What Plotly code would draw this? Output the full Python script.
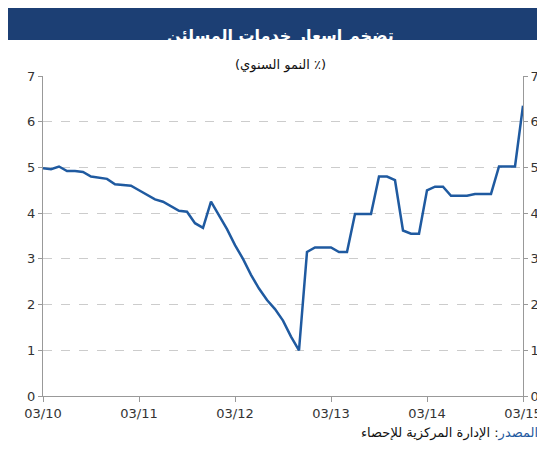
import plotly.graph_objects as go

tick_labels = ["03/10", "03/11", "03/12", "03/13", "03/14", "03/15"]
tick_pos = [0, 12, 24, 36, 48, 60]
months = list(range(61))
values = [4.98, 4.96, 5.02, 4.92, 4.92, 4.9, 4.8, 4.78, 4.75, 4.63, 4.62, 4.6,
          4.5, 4.4, 4.3, 4.25, 4.15, 4.05, 4.03, 3.78, 3.68, 4.25, 3.95, 3.65,
          3.3, 3.0, 2.65, 2.35, 2.1, 1.9, 1.65, 1.3, 1.0, 3.15, 3.25, 3.25,
          3.25, 3.15, 3.15, 3.98, 3.98, 3.98, 4.8, 4.8, 4.72, 3.62, 3.55, 3.55,
          4.5, 4.58, 4.58, 4.38, 4.38, 4.38, 4.42, 4.42, 4.42, 5.02, 5.02, 5.02, 6.35]

W, H = 545, 450
L, R, T, B = 35, 30, 68, 62
pw, ph = W - L - R, H - T - B
def px(x): return (x - L) / pw
def py(y): return (H - B - y) / ph

fig = go.Figure()
fig.add_trace(go.Scatter(x=months, y=values, mode="lines",
                         line=dict(color="#1f5aa0", width=2.5), showlegend=False))
fig.add_trace(go.Scatter(x=months, y=values, yaxis="y2", mode="lines",
                         line=dict(width=0), hoverinfo="skip", showlegend=False))
ax = dict(range=[0, 7], dtick=1, tickfont=dict(size=13, color="#333"), automargin=False,
          showline=True, linecolor="#999", ticks="outside", ticklen=4, tickcolor="#999")
fig.update_layout(
    width=W, height=H, margin=dict(l=L, r=R, t=T, b=B, autoexpand=False),
    plot_bgcolor="white", paper_bgcolor="white",
    font=dict(family="DejaVu Sans"),
    xaxis=dict(range=[0, 60], tickvals=tick_pos, ticktext=tick_labels, automargin=False,
               tickfont=dict(size=13, color="#333"), showline=True, linecolor="#999",
               ticks="outside", ticklen=5, tickcolor="#999", showgrid=False, zeroline=False),
    yaxis=dict(**ax, showgrid=True, gridcolor="#ccc", griddash="dash", zeroline=False),
    yaxis2=dict(**ax, overlaying="y", side="right", showgrid=False, zeroline=False),
    shapes=[dict(type="rect", xref="paper", yref="paper", x0=px(0), x1=px(W),
                 y0=py(32), y1=py(0), fillcolor="#1c3f74", line=dict(width=0), layer="above")],
    annotations=[
        dict(text="<b>تضخم اسعار خدمات المسلئن</b>", xref="paper", yref="paper",
             x=px(W / 2), y=py(16), showarrow=False, font=dict(size=16, color="white")),
        dict(text="(النمو السنوي ٪)", xref="paper", yref="paper",
             x=px(W / 2), y=py(47), showarrow=False, font=dict(size=13, color="#111")),
        dict(text="<span style='color:#1f5aa0'>المصدر</span>: الإدارة المركزية للإحصاء",
             xref="paper", yref="paper", x=px(532), y=py(435), xanchor="right",
             showarrow=False, font=dict(size=13, color="#111")),
    ],
)
fig.write_html("out.html")
